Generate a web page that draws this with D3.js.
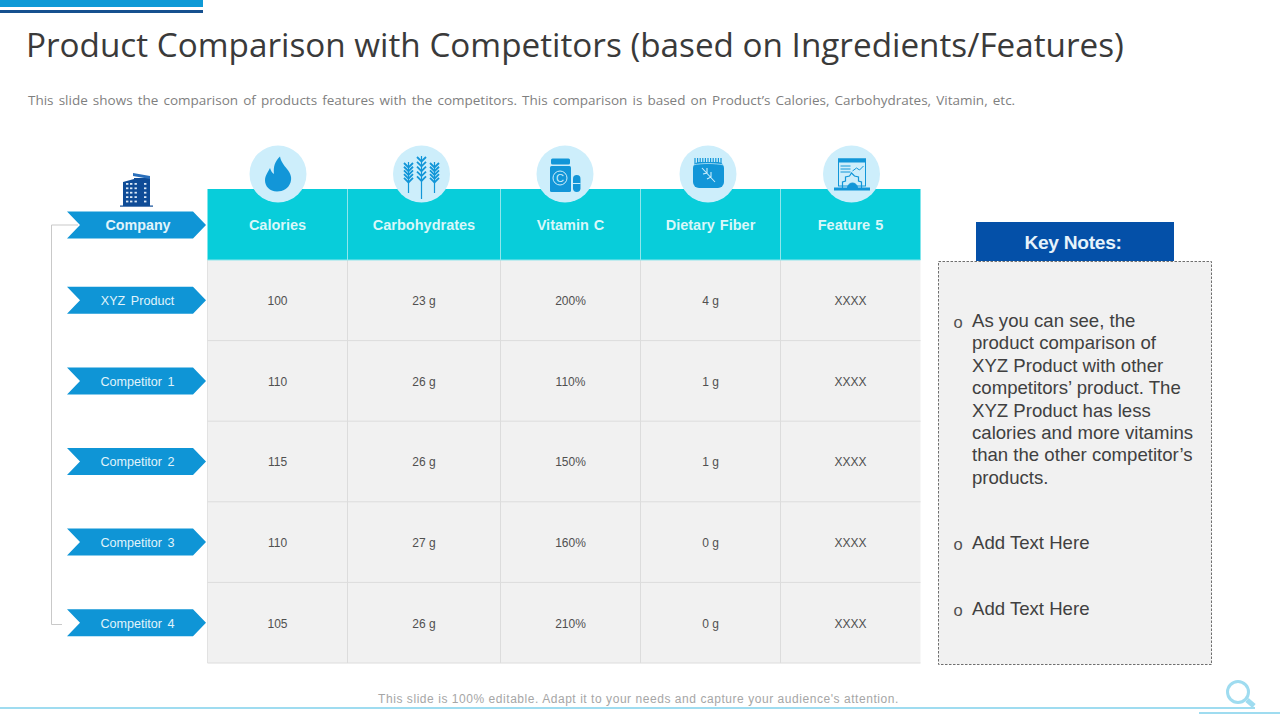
<!DOCTYPE html>
<html><head><meta charset="utf-8">
<style>html,body{margin:0;background:#fff;overflow:hidden}svg{display:block}</style>
<script src="https://cdn.jsdelivr.net/npm/d3@7"></script></head>
<body><svg id="c" width="1280" height="720"></svg>
<script>
const columns = ["Calories","Carbohydrates","Vitamin C","Dietary Fiber","Feature 5"];
const companies = ["XYZ Product","Competitor 1","Competitor 2","Competitor 3","Competitor 4"];
const calories = ["100","110","115","110","105"];
const carbohydrates = ["23 g","26 g","26 g","27 g","26 g"];
const vitaminC = ["200%","110%","150%","160%","210%"];
const dietaryFiber = ["4 g","1 g","1 g","0 g","0 g"];
const feature5 = ["XXXX","XXXX","XXXX","XXXX","XXXX"];
const seriesValues = [calories,carbohydrates,vitaminC,dietaryFiber,feature5];
const noteLines = [
 ["As you can see, the","product comparison of","XYZ Product with other","competitors’ product. The","XYZ Product has less","calories and more vitamins","than the other competitor’s","products."],
 ["Add Text Here"],["Add Text Here"]];

const svg = d3.select("#c");
const AR = "'Liberation Sans',Arial,sans-serif", OS = "'Open Sans',sans-serif";
const columnEdges = [207.5,347.5,500.5,640.5,780.5,920.5];
const xL = d3.scaleOrdinal(columns, columnEdges.slice(0,5));
const xR = d3.scaleOrdinal(columns, columnEdges.slice(1));
const xC = c => (xL(c)+xR(c))/2;
const y = d3.scaleBand(companies,[260,663]);
const yC = c => y(c)+y.bandwidth()/2;

// top bars
svg.append("rect").attr("x",0).attr("y",0).attr("width",203).attr("height",7).attr("fill","#0f9ad6");
svg.append("rect").attr("x",0).attr("y",10).attr("width",203).attr("height",3).attr("fill","#15508f");

svg.append("text").attr("x",26).attr("y",57).attr("font-family",OS).attr("font-size",33.28).attr("fill","#3a3a3a").text("Product Comparison with Competitors (based on Ingredients/Features)");
svg.append("text").attr("x",28).attr("y",105).attr("font-family",OS).attr("font-size",13.5).attr("fill","#7f7f7f").attr("word-spacing",1.6)
  .text("This slide shows the comparison of products features with the competitors. This comparison is based on Product’s Calories, Carbohydrates, Vitamin, etc.");

// table header
svg.append("rect").attr("x",207.5).attr("y",189).attr("width",713).attr("height",71).attr("fill","#08cdda");
svg.selectAll(".cell").data(d3.cross(columns,companies)).join("rect")
  .attr("x",d=>xL(d[0])).attr("y",d=>y(d[1])).attr("width",d=>xR(d[0])-xL(d[0])).attr("height",y.bandwidth())
  .attr("fill","#f1f1f1");
// grid
columns.slice(1).forEach(c=>{
  svg.append("line").attr("x1",xL(c)).attr("x2",xL(c)).attr("y1",189).attr("y2",260).attr("stroke","#8fe6ec").attr("stroke-width",1);
  svg.append("line").attr("x1",xL(c)).attr("x2",xL(c)).attr("y1",260).attr("y2",663).attr("stroke","#dcdcdc").attr("stroke-width",1);
});
svg.append("line").attr("x1",207.5).attr("x2",207.5).attr("y1",260).attr("y2",663).attr("stroke","#e2e2e2");
companies.forEach(c=>{
  svg.append("line").attr("x1",207.5).attr("x2",920.5).attr("y1",y(c)+y.bandwidth()).attr("y2",y(c)+y.bandwidth()).attr("stroke","#dcdcdc").attr("stroke-width",1);
});
svg.append("line").attr("x1",207.5).attr("x2",920.5).attr("y1",260).attr("y2",260).attr("stroke","#8fe6ec");

// header text
svg.selectAll(".hd").data(columns).join("text").attr("x",xC).attr("y",229.5).attr("text-anchor","middle")
  .attr("font-family",AR).attr("font-weight","bold").attr("font-size",14.5).attr("fill","#d9f7f9").attr("word-spacing",1).text(d=>d);
// cell text
columns.forEach((c,i)=>{
  svg.selectAll(".v"+i).data(seriesValues[i]).join("text").attr("x",xC(c)).attr("y",(d,j)=>yC(companies[j])+4.8)
   .attr("text-anchor","middle").attr("font-family",AR).attr("font-size",12).attr("fill","#505050").text(d=>d);
});

// bracket
svg.append("path").attr("d","M78 225H51.5V624.5H62").attr("fill","none").attr("stroke","#c9c9c9").attr("stroke-width",1);
// arrows
function ribbon(cy,h){const t=cy-h/2,b=cy+h/2;return `M67 ${t}H193L206 ${cy}L193 ${b}H67L80 ${cy}Z`;}
svg.append("path").attr("d",ribbon(225,27)).attr("fill","#0f95d6");
svg.append("text").attr("x",138).attr("y",230).attr("text-anchor","middle").attr("font-family",AR).attr("font-weight","bold").attr("font-size",14.3).attr("fill","#e0f4fb").text("Company");
svg.selectAll(".rb").data(companies).join("path").attr("d",d=>ribbon(yC(d),27)).attr("fill","#0f95d6");
svg.selectAll(".rt").data(companies).join("text").attr("x",137.5).attr("y",d=>yC(d)+4.8).attr("text-anchor","middle")
  .attr("font-family",AR).attr("font-size",12.6).attr("word-spacing",2).attr("fill","#e0f4fb").text(d=>d);

// building icon
const b = svg.append("g").attr("transform","translate(120,173)");
b.append("rect").attr("x",0).attr("y",32.5).attr("width",33).attr("height",1.2).attr("fill","#0f4c97");
b.append("path").attr("d","M3 33V9L14 6V33ZM14 33V5H30V33Z").attr("fill","#0f4c97");
b.append("path").attr("d","M13 0L30 3V6L13 3Z").attr("fill","#2a6fbb");
for(let r=0;r<5;r++){ for(const cx of [6,10,14.5,24]) b.append("rect").attr("x",cx).attr("y",10+r*4.4).attr("width",2.4).attr("height",1.8).attr("fill","#dbe9f7"); }

// circle icons
const iconX = [278,421.5,565,708,851.5];
svg.selectAll(".ci").data(iconX).join("circle").attr("cx",d=>d).attr("cy",174).attr("r",28.5).attr("fill","#cdeefb");
const ic="#1296d8";
// flame
svg.append("path").attr("transform","translate(278,174)").attr("fill",ic)
  .attr("d","M2 -17.5C3 -12 6 -9 9 -5C13 0 14 4 12.5 8.5C10.500 14.500 5 17.500 -1 17.500C-8.500 17.500 -13 12 -13 6.500C-13 1.500 -10 -2 -8 -6C-7 -3 -6 -1 -4 0C-5 -7 -3 -13 2 -17.500Z");
// wheat
const w = svg.append("g").attr("transform","translate(421.5,174)").attr("stroke",ic).attr("fill","none");
[[-13,-12,14,.85],[0,-18,20,1.1],[13,-12,14,.85]].forEach(([x0,y0,y1,s])=>{
  w.append("line").attr("x1",x0).attr("x2",x0).attr("y1",y0).attr("y2",y1+5).attr("stroke-width",1.2);
  for(let k=0;k<5;k++){const yy=y0+4+k*4.4*s;
    w.append("path").attr("d",`M${x0-4.5} ${yy-3}L${x0} ${yy+1.5}L${x0+4.5} ${yy-3}`).attr("stroke-width",1.8);}
});
// vitamin bottle
const v = svg.append("g").attr("transform","translate(565,174)");
v.append("rect").attr("x",-14).attr("y",-15.500).attr("width",19).attr("height",6).attr("rx",1.5).attr("fill",ic);
v.append("rect").attr("x",-15).attr("y",-8).attr("width",21).attr("height",26).attr("rx",1.5).attr("fill",ic);
v.append("circle").attr("cx",-5).attr("cy",4).attr("r",7).attr("fill","none").attr("stroke","#cdeefb").attr("stroke-width",1);
v.append("text").attr("x",-5).attr("y",8).attr("text-anchor","middle").attr("font-family",AR).attr("font-size",11).attr("fill","#cdeefb").text("C");
v.append("rect").attr("x",8).attr("y",1).attr("width",7.500).attr("height",17).attr("rx",3.7).attr("fill",ic);
v.append("line").attr("x1",8).attr("x2",15.500).attr("y1",9.500).attr("y2",9.500).attr("stroke","#cdeefb");
// fiber jar
const f = svg.append("g").attr("transform","translate(708,174)");
f.append("rect").attr("x",-15).attr("y",-12).attr("width",31).attr("height",26).attr("rx",6).attr("fill",ic);
d3.range(-13,15,2.6).forEach(x=>f.append("line").attr("x1",x).attr("x2",x).attr("y1",-16).attr("y2",-10).attr("stroke",ic).attr("stroke-width",1.2));
f.append("path").attr("d","M-15 -9C-6 -11 6 -11 16 -9").attr("fill","none").attr("stroke","#cdeefb").attr("stroke-width",.7);
f.append("path").attr("d","M-6 -6L7 8M-5 0L-1 -1L-1 -6M-1 5L3 3L3 -2").attr("fill","none").attr("stroke","#cdeefb").attr("stroke-width",1.1);
// feature screen
const s = svg.append("g").attr("transform","translate(851.5,174)").attr("fill","none").attr("stroke",ic).attr("stroke-width",1);
s.append("rect").attr("x",-13).attr("y",-15).attr("width",27).attr("height",27);
s.append("rect").attr("x",-13).attr("y",-15).attr("width",27).attr("height",3).attr("fill",ic);
s.append("path").attr("d","M-11 -8H-1M-11 -5H-1M-11 -2H-1M1 -3L5 -6L8 -4L12 -8");
s.append("path").attr("d","M-9 14L-9 8L-6 7L-6 3L-2 2L0 -1L3 2L7 3L7 7L10 8L10 14").attr("stroke-width",1.2);
s.append("path").attr("d","M-4 14A4.8 4.8 0 0 1 6 14").attr("fill",ic);
s.append("rect").attr("x",-17).attr("y",14).attr("width",35).attr("height",2).attr("fill",ic);

// Key notes
svg.append("rect").attr("x",938.5).attr("y",261.5).attr("width",273).attr("height",403).attr("fill","#f1f1f1").attr("stroke","#6f6f6f").attr("stroke-dasharray","2.5 1.5").attr("stroke-width",1);
svg.append("rect").attr("x",976).attr("y",222).attr("width",198).attr("height",39).attr("fill","#0450a8");
svg.append("text").attr("x",1073).attr("y",249).attr("text-anchor","middle").attr("font-family",AR).attr("font-weight","bold").attr("font-size",19.2).attr("letter-spacing",-.3).attr("fill","#e6f3fb").text("Key Notes:");

const noteY=[327,549,615];
noteLines.forEach((ls,i)=>{
  svg.append("text").attr("x",953.5).attr("y",noteY[i]+1).attr("font-family",AR).attr("font-size",16.5).attr("fill","#505050").text("o");
  ls.forEach((t,j)=>svg.append("text").attr("x",972).attr("y",noteY[i]+j*22.4).attr("font-family",AR).attr("font-size",18.6).attr("fill","#404040").text(t));
});

// footer
svg.append("text").attr("x",638.5).attr("y",703).attr("text-anchor","middle").attr("font-family",AR).attr("font-size",12).attr("letter-spacing",.55).attr("fill","#a6a6a6").text("This slide is 100% editable. Adapt it to your needs and capture your audience's attention.");
svg.append("line").attr("x1",0).attr("x2",1255).attr("y1",708).attr("y2",708).attr("stroke","#9fdcf0").attr("stroke-width",2);
svg.append("line").attr("x1",1199).attr("x2",1280).attr("y1",713).attr("y2",713).attr("stroke","#9fdcf0").attr("stroke-width",2);
svg.append("circle").attr("cx",1238).attr("cy",692).attr("r",10.5).attr("fill","none").attr("stroke","#9fdcf0").attr("stroke-width",3);
svg.append("line").attr("x1",1247).attr("y1",700).attr("x2",1254).attr("y2",706).attr("stroke","#9fdcf0").attr("stroke-width",5);
</script></body></html>
